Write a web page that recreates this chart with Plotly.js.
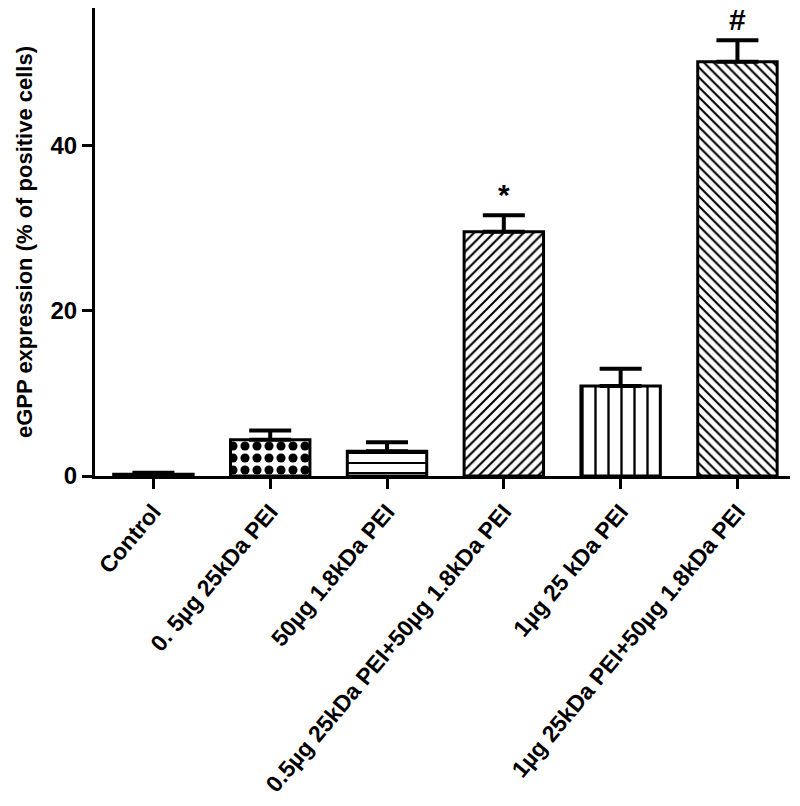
<!DOCTYPE html>
<html>
<head>
<meta charset="utf-8">
<script src="https://cdn.plot.ly/plotly-3.0.1.min.js"></script>
<style>
  html, body { margin: 0; padding: 0; background: #fff; }
  #chart { width: 800px; height: 806px; }
</style>
</head>
<body>
<div id="chart"></div>
<script>
// eGPP expression per group (mean + upper SEM)
const groups = ['Control', '0. 5µg 25kDa PEI', '50µg 1.8kDa PEI',
  '0.5µg 25kDa PEI+50µg 1.8kDa PEI', '1µg 25 kDa PEI', '1µg 25kDa PEI+50µg 1.8kDa PEI'];
const expression = [0.2, 4.4, 3.0, 29.6, 10.9, 50.2];
const errUpper = [0.2, 1.1, 1.1, 2.0, 2.1, 2.6];
const marks = ['', '', '', '*', '', '#'];

const patterns = ['', '.', '-', '/', '|', '\\'];
const patternSize = [8, 12, 10, 7, 13, 7];
const patternSolid = [0.2, 0.45, 0.2, 0.3, 0.18, 0.3];

const font = {family: 'Liberation Sans, Arial, sans-serif', color: '#000', weight: 'bold'};

const bars = {
  x: groups,
  y: expression,
  type: 'bar',
  width: 0.68,
  marker: {
    color: '#fff',
    line: {color: '#000', width: 3},
    pattern: {shape: patterns, size: patternSize, solidity: patternSolid, fgcolor: '#000', bgcolor: '#fff', fillmode: 'replace'}
  },
  error_y: {type: 'data', symmetric: false, array: errUpper, arrayminus: groups.map(() => 0),
    color: '#000', thickness: 4, width: 21},
  hoverinfo: 'skip'
};

const annotations = marks.map((m, i) => ({
  x: groups[i], y: expression[i] + errUpper[i], text: m, showarrow: false,
  yanchor: 'bottom', yshift: 2, font: Object.assign({}, font, {size: 30})
})).filter(a => a.text);

const layout = {
  width: 800, height: 806,
  margin: {l: 95, r: 10, t: 8, b: 330},
  paper_bgcolor: '#fff', plot_bgcolor: '#fff',
  showlegend: false,
  font: font,
  xaxis: {
    range: [-0.5, 5.45],
    showline: true, linecolor: '#000', linewidth: 3,
    ticks: 'outside', ticklen: 10, tickwidth: 3, tickcolor: '#000',
    tickangle: -50, tickfont: Object.assign({}, font, {size: 23}),
    showgrid: false, zeroline: false, fixedrange: true
  },
  yaxis: {
    range: [0, 56.7],
    tickvals: [0, 20, 40],
    showline: true, linecolor: '#000', linewidth: 3,
    ticks: 'outside', ticklen: 10, tickwidth: 3, tickcolor: '#000',
    tickfont: Object.assign({}, font, {size: 24}),
    title: {text: 'eGPP expression (% of positive cells)', font: Object.assign({}, font, {size: 22}), standoff: 12},
    showgrid: false, zeroline: false, fixedrange: true
  },
  annotations: annotations
};

Plotly.newPlot('chart', [bars], layout, {displayModeBar: false, staticPlot: true});
</script>
</body>
</html>
